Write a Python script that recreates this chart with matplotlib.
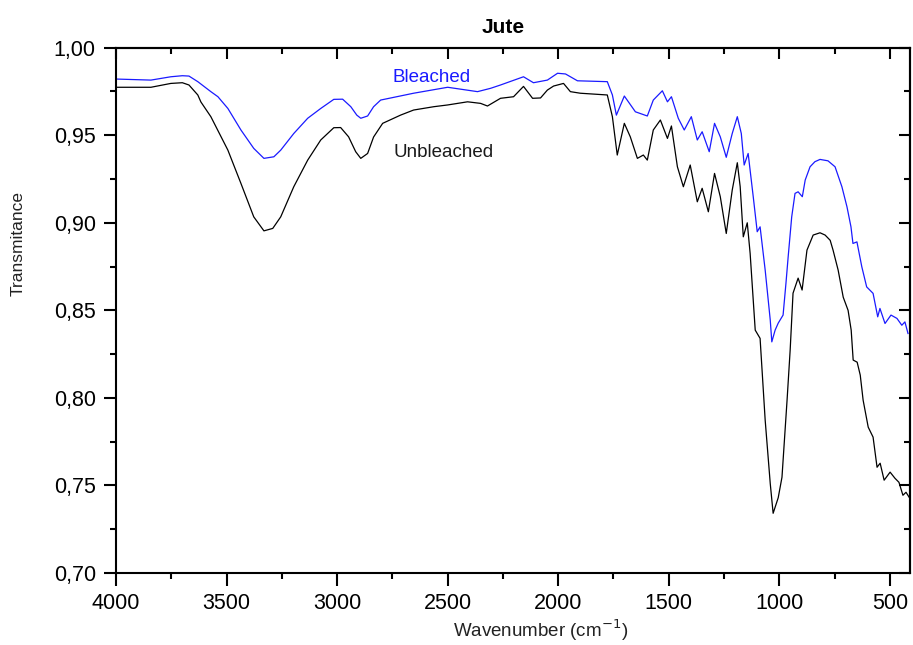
import matplotlib
matplotlib.use("Agg")
import matplotlib.pyplot as plt
from matplotlib.ticker import MultipleLocator, FuncFormatter

plt.rcParams["font.family"] = ["Liberation Sans", "DejaVu Sans"]

# FTIR spectra of jute fibre (wavenumber in cm-1, transmittance)
unbleached_wn = [4000, 3842, 3752, 3700, 3670, 3630, 3616, 3571, 3494, 3435, 3377, 3331, 3291,
                 3255, 3196, 3133, 3074, 3015, 2984, 2948, 2916, 2893, 2862, 2835, 2794,
                 2713, 2654, 2563, 2500, 2410, 2351, 2320, 2261, 2202, 2157, 2116, 2080,
                 2049, 2021, 1976, 1945, 1900, 1778, 1755, 1733, 1701, 1674, 1642, 1615,
                 1597, 1570, 1538, 1506, 1488, 1461, 1434, 1403, 1371, 1349, 1321, 1293,
                 1267, 1240, 1213, 1190, 1177, 1163, 1145, 1132, 1109, 1087, 1064, 1041,
                 1028, 1005, 988, 965, 951, 938, 915, 897, 875, 847, 816, 793, 770, 757,
                 734, 711, 689, 675, 666, 648, 634, 621, 598, 576, 558, 544, 526, 499,
                 477, 459, 441, 427, 413]
unbleached_t = [0.9774, 0.9774, 0.9796, 0.9800, 0.9787, 0.9730, 0.9690, 0.9606, 0.9415, 0.9225,
                0.9034, 0.8954, 0.8968, 0.9034, 0.9206, 0.9358, 0.9473, 0.9543, 0.9544, 0.9491,
                0.9406, 0.9368, 0.9396, 0.9490, 0.9568, 0.9615, 0.9644, 0.9663, 0.9673, 0.9691,
                0.9682, 0.9667, 0.9711, 0.9720, 0.9779, 0.9711, 0.9713, 0.9758, 0.9781, 0.9796,
                0.9749, 0.9740, 0.9730, 0.9606, 0.9387, 0.9568, 0.9491, 0.9368, 0.9387, 0.9358,
                0.9530, 0.9587, 0.9482, 0.9553, 0.9320, 0.9206, 0.9330, 0.9120, 0.9197, 0.9063,
                0.9282, 0.9149, 0.8939, 0.9187, 0.9343, 0.9206, 0.8920, 0.9000, 0.8825, 0.8387,
                0.8340, 0.7873, 0.7510, 0.7341, 0.7430, 0.7547, 0.7987, 0.8273, 0.8598, 0.8684,
                0.8616, 0.8844, 0.8930, 0.8943, 0.8930, 0.8900, 0.8844, 0.8730, 0.8575, 0.8500,
                0.8387, 0.8216, 0.8204, 0.8130, 0.7987, 0.7833, 0.7776, 0.7604, 0.7627, 0.7530,
                0.7576, 0.7541, 0.7518, 0.7444, 0.7461, 0.7433]

bleached_wn = [4000, 3842, 3752, 3700, 3670, 3630, 3571, 3539, 3494, 3435, 3377, 3331, 3286,
               3255, 3196, 3133, 3074, 3015, 2975, 2938, 2911, 2893, 2862, 2835, 2803,
               2654, 2500, 2365, 2306, 2261, 2157, 2112, 2049, 2003, 1967, 1913, 1778,
               1755, 1737, 1701, 1651, 1597, 1570, 1529, 1506, 1488, 1457, 1430, 1398,
               1371, 1349, 1317, 1293, 1267, 1240, 1213, 1190, 1172, 1159, 1141, 1118,
               1100, 1087, 1064, 1041, 1034, 1019, 1005, 983, 970, 960, 944, 929, 915,
               896, 883, 861, 839, 816, 780, 748, 717, 694, 676, 667, 649, 627, 605,
               576, 555, 545, 522, 495, 468, 446, 432, 418]
bleached_t = [0.9821, 0.9815, 0.9834, 0.9840, 0.9838, 0.9806, 0.9749, 0.9720, 0.9653, 0.9530,
              0.9425, 0.9368, 0.9377, 0.9415, 0.9510, 0.9597, 0.9653, 0.9705, 0.9706, 0.9663,
              0.9615, 0.9597, 0.9610, 0.9663, 0.9701, 0.9740, 0.9774, 0.9749, 0.9768, 0.9787,
              0.9834, 0.9800, 0.9815, 0.9854, 0.9850, 0.9811, 0.9806, 0.9730, 0.9615, 0.9724,
              0.9634, 0.9610, 0.9701, 0.9754, 0.9691, 0.9720, 0.9597, 0.9530, 0.9606, 0.9473,
              0.9520, 0.9406, 0.9568, 0.9491, 0.9374, 0.9510, 0.9606, 0.9510, 0.9330, 0.9396,
              0.9149, 0.8949, 0.8977, 0.8730, 0.8444, 0.8320, 0.8387, 0.8427, 0.8473, 0.8655,
              0.8806, 0.9034, 0.9168, 0.9177, 0.9149, 0.9244, 0.9320, 0.9349, 0.9362, 0.9354,
              0.9320, 0.9206, 0.9091, 0.8977, 0.8882, 0.8891, 0.8749, 0.8634, 0.8597, 0.8463,
              0.8511, 0.8425, 0.8473, 0.8454, 0.8415, 0.8434, 0.8368]

title = "Jute"
x_label = "Wavenumber (cm$^{-1}$)"
y_label = "Transmitance"
x_ticks = [4000, 3500, 3000, 2500, 2000, 1500, 1000, 500]
y_ticks = [0.70, 0.75, 0.80, 0.85, 0.90, 0.95, 1.00]

fig = plt.figure(figsize=(9.13, 6.45), dpi=100)
ax = fig.add_axes([116 / 913, 1 - 573 / 645, (910 - 116) / 913, (573 - 47.7) / 645])

ax.plot(unbleached_wn, unbleached_t, color="black", lw=0.9)
ax.plot(bleached_wn, bleached_t, color="#1a1aff", lw=0.9)

ax.set_xlim(4000, 409)
ax.set_ylim(0.70, 1.00)

ax.set_xticks(x_ticks)
ax.set_yticks(y_ticks)
ax.xaxis.set_minor_locator(MultipleLocator(250))
ax.yaxis.set_minor_locator(MultipleLocator(0.025))
ax.yaxis.set_major_formatter(FuncFormatter(lambda v, p: f"{v:.2f}".replace(".", ",")))

for s in ax.spines.values():
    s.set_linewidth(1.5)

ax.tick_params(which="major", direction="out", length=9, width=1.5,
               labelsize=15.5, pad=5.5, colors="black")
ax.tick_params(which="minor", direction="out", length=4, width=1.5)

# mirrored ticks pointing inward on top and right
top = ax.secondary_xaxis("top")
top.set_xticks(x_ticks)
top.xaxis.set_minor_locator(MultipleLocator(250))
top.tick_params(which="major", direction="in", length=8, width=1.5, labeltop=False)
top.tick_params(which="minor", direction="in", length=4, width=1.5)
top.spines["top"].set_linewidth(1.5)

right = ax.secondary_yaxis("right")
right.set_yticks(y_ticks)
right.yaxis.set_minor_locator(MultipleLocator(0.025))
right.tick_params(which="major", direction="in", length=8, width=1.5, labelright=False)
right.tick_params(which="minor", direction="in", length=4, width=1.5)
right.spines["right"].set_linewidth(1.5)

ax.text(2750, 0.9805, "Bleached", color="#1a1aff", fontsize=13.5)
ax.text(2745, 0.9375, "Unbleached", color="#1a1a1a", fontsize=13.5)

fig.text(503 / 913, 1 - 33 / 645, title, ha="center", va="baseline",
         fontsize=15, fontweight="bold")
fig.text(541 / 913, 1 - 637 / 645, x_label, ha="center", va="baseline",
         fontsize=13.5, color="#222222")
fig.text(18 / 913, 1 - 243 / 645, y_label, ha="center", va="center",
         rotation=90, fontsize=12.5, color="#222222")

fig.savefig("out.png", dpi=100)
